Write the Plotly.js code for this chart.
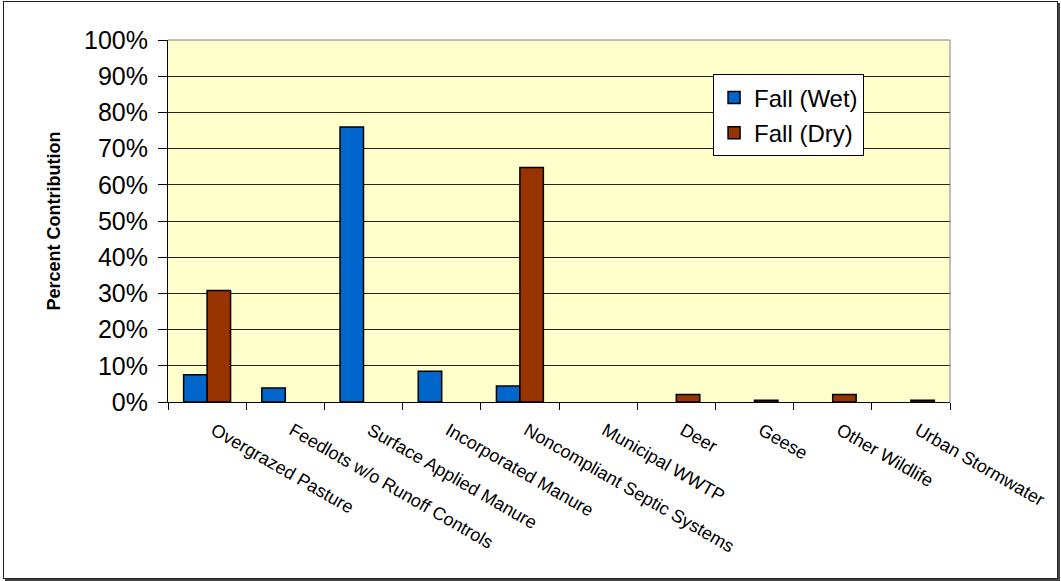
<!DOCTYPE html>
<html>
<head>
<meta charset="utf-8">
<script src="https://cdn.plot.ly/plotly-3.0.1.min.js"></script>
<style>
  html, body { margin: 0; padding: 0; background: #ffffff; }
  #chart { width: 1061px; height: 581px; position: absolute; left: 0; top: 0; }
  #frame { position: absolute; left: 3px; top: 1px; width: 1053px; height: 576px;
           border: 1px solid #222; box-shadow: 2px 2px 0 #444; pointer-events: none; }
</style>
</head>
<body>
<div id="chart"></div>
<div id="frame"></div>
<script>
const categories = [
  "Overgrazed Pasture", "Feedlots w/o Runoff Controls", "Surface Applied Manure",
  "Incorporated Manure", "Noncompliant Septic Systems", "Municipal WWTP",
  "Deer", "Geese", "Other Wildlife", "Urban Stormwater"
];
const fallWet = [7.5, 3.9, 76, 8.5, 4.4, null, null, null, null, null];
const fallDry = [30.8, null, null, null, 64.8, null, 2.1, 0.5, 2.1, 0.5];
const yTickVals = [0, 10, 20, 30, 40, 50, 60, 70, 80, 90, 100];
const yTickText = ["0%", "10%", "20%", "30%", "40%", "50%", "60%", "70%", "80%", "90%", "100%"];

const traces = [
  { type: "bar", name: "Fall (Wet)", x: categories, y: fallWet, legendgroup: "a",
    marker: { color: "#0066CC", line: { color: "#000000", width: 1.5 } } },
  { type: "bar", name: "Fall (Dry)", x: categories, y: fallDry, legendgroup: "b",
    marker: { color: "#993300", line: { color: "#000000", width: 1.5 } } }
];

const layout = {
  width: 1061, height: 581,
  margin: { l: 168, r: 111, t: 40, b: 179 },
  paper_bgcolor: "rgba(0,0,0,0)",
  plot_bgcolor: "#FFFFCC",
  font: { family: "Arial, 'Liberation Sans', sans-serif", color: "#000000" },
  barmode: "group",
  bargap: 0.4,
  bargroupgap: 0,
  showlegend: true,
  legend: {
    x: 0.697, y: 0.905, xanchor: "left", yanchor: "top",
    bgcolor: "#FFFFFF", bordercolor: "#000000", borderwidth: 1,
    font: { size: 24, family: "Arial, 'Liberation Sans', sans-serif" },
    traceorder: "grouped", tracegroupgap: 1, itemwidth: 30
  },
  xaxis: {
    type: "category",
    tickangle: 30,
    tickfont: { size: 18 },
    ticks: "outside", ticklen: 7, tickcolor: "#000000",
    tickson: "boundaries",
    ticklabelstandoff: 10,
    ticklabelshift: 7,
    showline: true, linecolor: "#000000", linewidth: 1,
    showgrid: false, zeroline: false,
    automargin: false
  },
  yaxis: {
    range: [0, 100],
    tickvals: yTickVals, ticktext: yTickText,
    tickfont: { size: 25 },
    ticks: "outside", ticklen: 9, tickcolor: "#000000",
    ticklabelstandoff: 5,
    showline: true, linecolor: "#000000", linewidth: 1,
    showgrid: true, gridcolor: "#222222", gridwidth: 1,
    zeroline: false,
    automargin: false,
    title: { text: "<b>Percent Contribution</b>", font: { size: 18 }, standoff: 18 }
  },
  shapes: [
    { type: "line", xref: "paper", yref: "paper", x0: 0, x1: 1, y0: 1, y1: 1,
      line: { color: "#808080", width: 1 } },
    { type: "line", xref: "paper", yref: "paper", x0: 1, x1: 1, y0: 0, y1: 1,
      line: { color: "#808080", width: 1 } }
  ]
};

Plotly.newPlot("chart", traces, layout, { displayModeBar: false, staticPlot: true });
</script>
</body>
</html>
